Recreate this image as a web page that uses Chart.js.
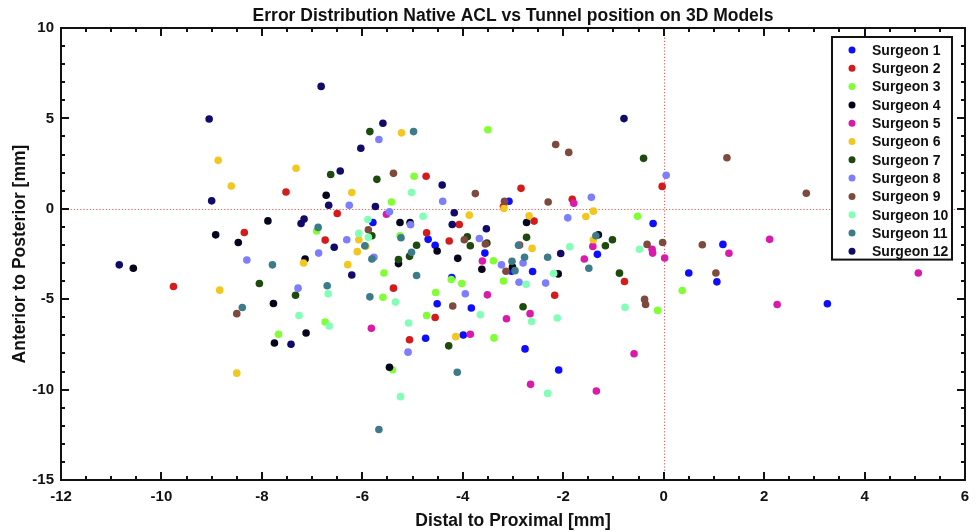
<!DOCTYPE html>
<html>
<head>
<meta charset="utf-8">
<title>Error Distribution Native ACL vs Tunnel position on 3D Models</title>
<script src="https://cdn.jsdelivr.net/npm/chart.js@4.4.1/dist/chart.umd.min.js"></script>
<style>
  html, body { margin: 0; padding: 0; background: #fff; }
  #wrap { width: 980px; height: 532px; }
</style>
</head>
<body>
<div id="wrap"><canvas id="scatter" width="980" height="532"></canvas></div>
<script>
// Surgeon labels and axis settings
const surgeonLabels = ['Surgeon 1', 'Surgeon 2', 'Surgeon 3', 'Surgeon 4', 'Surgeon 5', 'Surgeon 6',
  'Surgeon 7', 'Surgeon 8', 'Surgeon 9', 'Surgeon 10', 'Surgeon 11', 'Surgeon 12'];
const xRange = [-12, 6];
const yRange = [-15, 10];
const xMajorStep = 2;
const yMajorStep = 5;

// [distal-proximal, anterior-posterior] in mm, one array per surgeon
const surgeon1 = [[-5.79, -0.76], [-4.69, -1.69], [-4.55, -2.02], [-3.08, 0.42], [-0.21, -0.81],
  [-3.56, -2.45], [-4.22, -3.8], [-4.51, -5.25], [-3.83, -5.49], [-4.74, -7.16], [-3.99, -6.98],
  [-3.03, -3.45], [-2.61, -3.47], [-1.32, -2.52], [-2.76, -7.75], [-2.09, -8.92], [1.18, -1.97],
  [0.5, -3.55], [1.06, -4.04], [3.26, -5.25]];
const surgeon2 = [[-7.52, 0.93], [-8.35, -1.31], [-9.76, -4.3], [-4.73, 1.8], [-6.5, -0.26],
  [-4.07, -0.87], [-4.72, -1.33], [-4.27, -1.78], [-6.74, -1.73], [-2.84, 1.13], [-3.19, 0.13],
  [-1.82, 0.53], [-2.58, -0.68], [-0.03, 1.24], [-5.38, -4.39], [-4.55, -6.01], [-5.06, -7.24],
  [-0.78, -4.02], [-2.17, -4.78], [-2.87, -2.0]];
const surgeon3 = [[-7.67, -6.94], [-3.5, 4.37], [-4.97, 1.8], [-5.42, 0.38], [-6.91, -1.23],
  [-5.25, -1.49], [-5.57, -3.55], [-4.23, -3.91], [-4.02, -4.13], [-4.54, -4.63], [-5.59, -4.89],
  [-6.74, -6.26], [-4.72, -5.9], [-5.4, -8.9], [-0.52, -0.41], [-3.39, -2.87], [-3.19, -3.99],
  [-3.38, -7.14], [-0.12, -5.62], [0.37, -4.52]];
const surgeon4 = [[-7.88, -0.67], [-8.92, -1.44], [-8.47, -1.86], [-10.56, -3.29], [-7.14, -2.78],
  [-7.77, -5.24], [-7.12, -6.87], [-7.75, -7.42], [-6.72, 0.75], [-5.25, -0.76], [-5.05, -0.76],
  [-2.73, -0.76], [-1.3, -1.44], [-5.28, -3.03], [-4.51, -2.33], [-4.1, -2.74], [-3.62, -3.34],
  [-5.46, -8.76], [-3.01, -3.22], [-2.1, -3.6]];
const surgeon5 = [[-5.52, -0.3], [-1.79, 0.31], [-1.41, -2.08], [-3.61, -2.89], [-3.51, -4.76],
  [-5.82, -6.61], [-3.85, -6.94], [-1.58, -2.78], [-0.23, -2.24], [-0.22, -2.45], [0.02, -2.72],
  [-2.66, -5.8], [-3.13, -6.08], [-0.59, -8.02], [-2.65, -9.71], [-1.34, -10.08], [1.3, -2.46],
  [2.11, -1.69], [2.26, -5.29], [5.07, -3.55]];
const surgeon6 = [[-8.87, 2.68], [-8.61, 1.26], [-7.32, 2.24], [-8.84, -4.5], [-7.17, -3.0],
  [-8.5, -9.09], [-5.22, 4.2], [-6.21, 0.9], [-3.87, -0.35], [-6.07, -1.71], [-3.18, 0.02],
  [-2.68, -0.39], [-1.55, -0.43], [-1.4, -0.13], [-1.4, -1.71], [-2.62, -2.19], [-6.1, -2.37],
  [-6.29, -3.09], [-4.14, -7.07], [-5.93, -2.07]];
const surgeon7 = [[-8.05, -4.13], [-7.33, -4.78], [-5.85, 4.27], [-6.63, 1.9], [-5.71, 1.63],
  [-5.81, -1.49], [-4.92, -2.02], [-3.91, -1.55], [-3.85, -2.04], [-3.52, -1.89], [-0.4, 2.79],
  [-2.73, -1.58], [-1.02, -1.71], [-1.16, -2.04], [-5.06, -2.63], [-5.28, -2.81], [-4.28, -7.58],
  [-0.88, -3.56], [-2.8, -5.42]];
const surgeon8 = [[-8.3, -2.83], [-7.28, -4.39], [-5.67, 3.83], [-6.26, 0.2], [-4.4, 0.42],
  [-5.46, -0.17], [-5.04, -0.88], [-6.31, -1.71], [-3.67, -1.64], [0.05, 1.85], [-1.44, 0.64],
  [-1.91, -0.5], [-6.87, -2.45], [-5.77, -2.68], [-3.95, -4.7], [-5.09, -7.93], [-3.23, -3.1],
  [-2.8, -3.0], [-2.88, -4.06], [-2.35, -4.11]];
const surgeon9 = [[-8.5, -5.8], [-5.38, 1.96], [-3.75, 0.84], [-5.88, -1.16], [-3.97, -1.71],
  [-2.15, 3.56], [-1.89, 3.12], [-3.17, 0.42], [-2.3, 0.38], [-0.33, -1.97], [-0.02, -1.86],
  [-3.55, -1.95], [-4.2, -5.38], [-3.14, -3.45], [-0.38, -5.01], [-0.36, -5.29], [1.26, 2.82],
  [2.84, 0.86], [0.77, -1.99], [1.04, -3.55]];
const surgeon10 = [[-7.26, -5.9], [-5.02, 0.9], [-5.89, -0.59], [-4.79, -0.41], [-6.07, -1.36],
  [-5.88, -1.58], [-1.87, -2.1], [-6.68, -4.7], [-5.34, -5.16], [-3.65, -5.86], [-6.66, -6.48],
  [-5.08, -6.32], [-5.24, -10.39], [-2.74, -4.17], [-2.19, -3.58], [-0.48, -2.24], [-0.77, -5.45],
  [-2.63, -6.23], [-2.12, -6.04], [-2.31, -10.21]];
const surgeon11 = [[-7.79, -3.1], [-8.39, -5.46], [-4.98, 4.27], [-6.88, -1.03], [-5.23, -1.6],
  [-5.95, -2.04], [-2.89, -2.02], [-1.35, -1.49], [-5.81, -2.78], [-5.02, -2.41], [-4.92, -3.69],
  [-6.7, -4.26], [-5.85, -4.87], [-4.11, -9.04], [-5.67, -12.21], [-3.02, -2.9], [-2.96, -3.42],
  [-2.77, -2.68], [-2.31, -2.68], [-1.49, -3.29]];
const surgeon12 = [[-9.05, 4.97], [-9.0, 0.44], [-7.22, -0.81], [-7.16, -0.57], [-10.84, -3.1],
  [-7.42, -7.49], [-6.82, 6.77], [-5.59, 4.73], [-6.03, 3.35], [-6.44, 2.09], [-4.41, 1.32],
  [-6.67, 0.2], [-5.74, 0.13], [-4.17, -0.22], [-4.21, -0.87], [-3.53, -1.1], [-6.56, -2.13],
  [-6.21, -3.66], [-0.79, 4.99], [-2.05, -2.47]];

const surgeonData = [surgeon1, surgeon2, surgeon3, surgeon4, surgeon5, surgeon6,
  surgeon7, surgeon8, surgeon9, surgeon10, surgeon11, surgeon12];

// Marker colours (MATLAB-like palette from the figure)
const surgeonColors = ['#0d0dff', '#d41c1c', '#80ff33', '#05051c', '#d91aab', '#f2c71f',
  '#1f4a0f', '#7d7dff', '#7d4a3d', '#80ffb5', '#3d7a8a', '#100a6b'];

const FONT = "'Liberation Sans', Arial, Helvetica, sans-serif";
const INK = '#111111';

// Box, inward ticks, zero lines and legend (MATLAB look)
const matlabAxes = {
  id: 'matlabAxes',
  beforeDatasetsDraw(chart) {
    const { ctx, chartArea: a, scales: { x, y } } = chart;
    const x0 = Math.round(x.getPixelForValue(0)) + 0.5;
    const y0 = Math.round(y.getPixelForValue(0)) + 0.5;
    ctx.save();
    ctx.strokeStyle = '#e25a5a';
    ctx.lineWidth = 1;
    ctx.setLineDash([1.2, 2]);
    ctx.beginPath();
    ctx.moveTo(x0, a.top); ctx.lineTo(x0, a.bottom);
    ctx.moveTo(a.left, y0); ctx.lineTo(a.right, y0);
    ctx.stroke();
    ctx.restore();
  },
  afterDraw(chart) {
    const { ctx, chartArea: a, scales: { x, y } } = chart;
    ctx.save();
    ctx.strokeStyle = INK;
    ctx.lineWidth = 2;
    ctx.beginPath();
    // x ticks, minor every 0.5
    for (let v = xRange[0]; v <= xRange[1] + 1e-9; v += 0.5) {
      const px = Math.round(x.getPixelForValue(v));
      const len = Math.abs(v % xMajorStep) < 1e-9 ? 8 : 4;
      ctx.moveTo(px, a.bottom); ctx.lineTo(px, a.bottom - len);
      ctx.moveTo(px, a.top); ctx.lineTo(px, a.top + len);
    }
    // y ticks, minor every 1
    for (let v = yRange[0]; v <= yRange[1] + 1e-9; v += 1) {
      const py = Math.round(y.getPixelForValue(v));
      const len = Math.abs(v % yMajorStep) < 1e-9 ? 8 : 4;
      ctx.moveTo(a.left, py); ctx.lineTo(a.left + len, py);
      ctx.moveTo(a.right, py); ctx.lineTo(a.right - len, py);
    }
    ctx.stroke();
    ctx.strokeRect(a.left, a.top, a.right - a.left, a.bottom - a.top);

    // legend box, top right inside the axes
    const rowH = 18.3;
    const boxW = 120;
    const boxH = rowH * chart.data.datasets.length + 3;
    const bx = a.right - 13 - boxW;
    const by = a.top + 9;
    ctx.fillStyle = '#fff';
    ctx.fillRect(bx, by, boxW, boxH);
    ctx.strokeRect(bx, by, boxW, boxH);
    ctx.font = 'bold 14px ' + FONT;
    ctx.textBaseline = 'middle';
    ctx.textAlign = 'left';
    chart.data.datasets.forEach((ds, i) => {
      const cy = by + 13 + i * rowH;
      ctx.fillStyle = ds.backgroundColor;
      ctx.beginPath();
      ctx.arc(bx + 20, cy, 3.5, 0, Math.PI * 2);
      ctx.fill();
      ctx.fillStyle = INK;
      ctx.fillText(ds.label, bx + 40, cy + 1);
    });
    ctx.restore();
  }
};

const datasets = surgeonData.map((pts, i) => ({
  label: surgeonLabels[i],
  data: pts.map(p => ({ x: p[0], y: p[1] })),
  backgroundColor: surgeonColors[i],
  borderWidth: 0,
  pointRadius: 3.8,
  pointHoverRadius: 3.8,
  order: surgeonData.length - i
}));

new Chart(document.getElementById('scatter'), {
  type: 'scatter',
  data: { datasets },
  options: {
    responsive: false,
    devicePixelRatio: 1,
    animation: false,
    layout: { padding: { left: 0, right: 15, top: 0, bottom: 0 } },
    plugins: {
      legend: { display: false },
      tooltip: { enabled: false },
      title: {
        display: true,
        fullSize: false,
        text: 'Error Distribution Native ACL vs Tunnel position on 3D Models',
        color: INK,
        font: { family: FONT, size: 17.5, weight: 'bold' },
        padding: { top: 6, bottom: 1 }
      }
    },
    scales: {
      x: {
        type: 'linear',
        min: xRange[0],
        max: xRange[1],
        grid: { display: false, drawTicks: false },
        border: { display: false },
        ticks: {
          stepSize: xMajorStep,
          color: INK,
          padding: 8,
          font: { family: FONT, size: 15, weight: 'bold' }
        },
        title: {
          display: true,
          text: 'Distal to Proximal [mm]',
          color: INK,
          font: { family: FONT, size: 17.5, weight: 'bold' },
          padding: { top: 0, bottom: 0 }
        },
        afterFit: s => { s.height = 52; }
      },
      y: {
        type: 'linear',
        min: yRange[0],
        max: yRange[1],
        grid: { display: false, drawTicks: false },
        border: { display: false },
        ticks: {
          stepSize: yMajorStep,
          color: INK,
          padding: 7,
          font: { family: FONT, size: 15, weight: 'bold' }
        },
        title: {
          display: true,
          text: 'Anterior to Posterior [mm]',
          color: INK,
          font: { family: FONT, size: 17.5, weight: 'bold' },
          padding: { top: 10, bottom: 0 }
        },
        afterFit: s => { s.width = 61; }
      }
    }
  },
  plugins: [matlabAxes]
});
</script>
</body>
</html>
